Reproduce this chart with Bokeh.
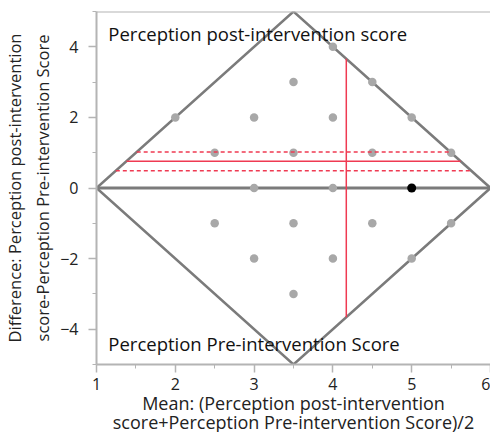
from bokeh.plotting import figure
from bokeh.models import Range1d, Span, Label, FixedTicker, Title
from bokeh.embed import file_html
from bokeh.resources import INLINE

# Observations (mean of pre/post, difference post - pre)
mean_vals = [2, 2.5, 3, 3.5, 3.5, 4, 4, 4.5, 4.5, 5, 5.5, 3, 4, 2.5, 3.5, 4.5, 5.5, 3, 4, 5, 3.5]
diff_vals = [2, 1, 2, 3, 1, 4, 2, 3, 1, 2, 1, 0, 0, -1, -1, -1, -1, -2, -2, -2, -3]
highlight_mean = [5]
highlight_diff = [0]

# Summary statistics
mean_diff = 0.76
ci_low = 0.49
ci_high = 1.02
mean_of_means = 4.17

# Score range
score_min = 1
score_max = 6

x_ticks = [1, 2, 3, 4, 5, 6]
y_ticks = [-4, -2, 0, 2, 4]

x_label_lines = ["Mean: (Perception post-intervention",
                 "score+Perception Pre-intervention Score)/2"]
y_label_lines = ["Difference: Perception post-intervention",
                 "score-Perception Pre-intervention Score"]

FONT = "Open Sans"
GRAY = "#7b7b7b"
PT = "#a8a8a8"
RED = "#ef3a52"
AX = "#b4b4b4"

half = (score_max - score_min) / 2.0
mid = (score_min + score_max) / 2.0
slope = 2.0

p = figure(frame_width=394, frame_height=353, output_backend="svg", toolbar_location=None,
           x_range=Range1d(score_min, score_max), y_range=Range1d(-half * slope, half * slope),
           min_border_left=96, min_border_top=11, min_border_right=0, min_border_bottom=68)
p.outline_line_color = None
p.xgrid.visible = False
p.ygrid.visible = False
p.background_fill_color = "white"

for ax in (p.xaxis, p.yaxis):
    ax.axis_line_color = AX
    ax.axis_line_width = 2
    ax.major_tick_line_color = AX
    ax.minor_tick_line_color = AX
    ax.major_tick_line_width = 1.5
    ax.major_tick_in = 0
    ax.major_tick_out = 8
    ax.minor_tick_in = 0
    ax.minor_tick_out = 4
    ax.major_label_text_font = FONT
    ax.major_label_text_font_size = "16px"
    ax.major_label_text_color = "#222222"

p.xaxis.ticker = FixedTicker(ticks=x_ticks, minor_ticks=[v + 0.5 for v in x_ticks[:-1]])
p.yaxis.ticker = FixedTicker(ticks=y_ticks, minor_ticks=[-5, -3, -1, 1, 3, 5])
p.xaxis.major_label_standoff = 5
p.yaxis.major_label_standoff = 10

def add_title(text, place, standoff, size):
    t = Title(text=text, align="center", text_font=FONT, text_font_size=size,
              text_font_style="normal", text_color="#222222", standoff=standoff)
    p.add_layout(t, place)

add_title(x_label_lines[0], "below", -8, "18px")
add_title(x_label_lines[1], "below", -6, "18px")
add_title(y_label_lines[1], "left", 8, "16.5px")
add_title(y_label_lines[0], "left", -2, "16.5px")

p.add_layout(Span(location=half * slope, dimension="width", line_color=AX, line_width=2))

# Diamond
dx = [score_min, mid, score_max, mid, score_min]
dy = [0, half * slope, 0, -half * slope, 0]
p.line(dx, dy, line_color=GRAY, line_width=2.5)
p.line([score_min, score_max], [0, 0], line_color=GRAY, line_width=3)

# Points
p.scatter(mean_vals, diff_vals, size=8.5, fill_color=PT, line_color=None)
p.scatter(highlight_mean, highlight_diff, size=9, fill_color="black", line_color=None)

def clip_x(yv):
    return score_min + abs(yv) / slope, score_max - abs(yv) / slope

x0, x1 = clip_x(mean_diff)
p.line([x0, x1], [mean_diff, mean_diff], line_color=RED, line_width=1.5)
for yv in (ci_low, ci_high):
    a, b = clip_x(yv)
    p.line([a, b], [yv, yv], line_color=RED, line_width=1.5, line_dash="4 3")
yv_top = slope * min(mean_of_means - score_min, score_max - mean_of_means)
p.line([mean_of_means, mean_of_means], [-yv_top, yv_top], line_color=RED, line_width=1.5)

p.add_layout(Label(x=1.15, y=4.38, text="Perception post-intervention score", text_font=FONT,
                   text_font_size="18.5px", text_baseline="middle", text_color="#111111"))
p.add_layout(Label(x=1.15, y=-4.4, text="Perception Pre-intervention Score", text_font=FONT,
                   text_font_size="18.5px", text_baseline="middle", text_color="#111111"))

open("out.html", "w").write(file_html(p, INLINE))
